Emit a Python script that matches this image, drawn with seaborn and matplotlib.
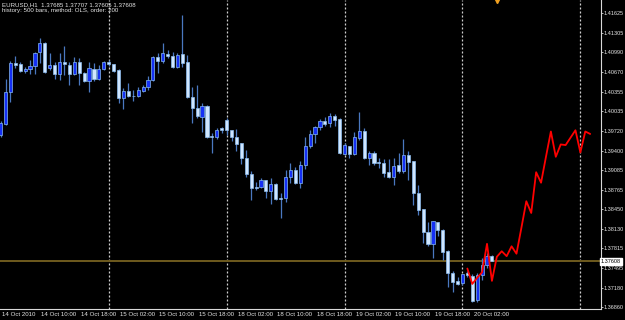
import matplotlib
matplotlib.use("Agg")
import matplotlib.pyplot as plt
import matplotlib.transforms as mtransforms
from matplotlib import font_manager
import numpy as np
import pandas as pd
import seaborn as sns

# ---------------- data (EURUSD H1 candles, bar 0 = 14 Oct 2010 02:00) ----------------
opens = [1.3965, 1.3983, 1.4035, 1.4082, 1.4080, 1.4069, 1.4072, 1.4077, 1.4100, 1.4114,
         1.4074, 1.4079, 1.4064, 1.4084, 1.4079, 1.4064, 1.4084, 1.4066, 1.4053, 1.4072,
         1.4056, 1.4072, 1.4084, 1.4080, 1.4071, 1.4025, 1.4037, 1.4029, 1.4028, 1.4037,
         1.4043, 1.4054, 1.4092, 1.4085, 1.4097, 1.4093, 1.4075, 1.4097, 1.4084, 1.4027,
         1.4009, 1.3994, 1.4012, 1.3964, 1.3962, 1.3977, 1.3990, 1.3973, 1.3962, 1.3952,
         1.3928, 1.3902, 1.3881, 1.3881, 1.3892, 1.3875, 1.3886, 1.3863, 1.3863, 1.3897,
         1.3909, 1.3888, 1.3917, 1.3947, 1.3967, 1.3978, 1.3988, 1.3985, 1.3996, 1.3991,
         1.3935, 1.3947, 1.3935, 1.3960, 1.3972, 1.3928, 1.3936, 1.3922, 1.3920, 1.3905,
         1.3897, 1.3917, 1.3907, 1.3933, 1.3923, 1.3871, 1.3845, 1.3808, 1.3789, 1.3824,
         1.3811, 1.3777, 1.3742, 1.3729, 1.3726, 1.3742, 1.3737, 1.3698, 1.3739, 1.3755,
         1.37685]
highs = [1.3988, 1.4056, 1.4085, 1.4093, 1.4084, 1.4075, 1.4087, 1.4100, 1.4122, 1.4116,
         1.4098, 1.4084, 1.4098, 1.4109, 1.4084, 1.4092, 1.4090, 1.4067, 1.4084, 1.4082,
         1.4079, 1.4085, 1.4087, 1.4080, 1.4072, 1.4041, 1.4050, 1.4038, 1.4043, 1.4046,
         1.4061, 1.4093, 1.4098, 1.4114, 1.4103, 1.4100, 1.4098, 1.4160, 1.4095, 1.4043,
         1.4046, 1.4017, 1.4014, 1.3969, 1.3977, 1.3978, 1.3993, 1.3973, 1.3975, 1.3952,
         1.3941, 1.3907, 1.3889, 1.3896, 1.3892, 1.3896, 1.3888, 1.3871, 1.3909, 1.3920,
         1.3913, 1.3923, 1.3962, 1.3973, 1.3980, 1.3991, 1.3994, 1.4001, 1.3999, 1.3993,
         1.3952, 1.3947, 1.3970, 1.4003, 1.3977, 1.3939, 1.3939, 1.3928, 1.3926, 1.3926,
         1.3928, 1.3936, 1.3959, 1.3939, 1.3923, 1.3884, 1.3845, 1.3824, 1.3826, 1.3824,
         1.3813, 1.3779, 1.3745, 1.3735, 1.3740, 1.3745, 1.3740, 1.3742, 1.3766, 1.3774,
         1.37707]
lows = [1.3962, 1.3982, 1.4019, 1.4074, 1.4067, 1.4066, 1.4064, 1.4064, 1.4082, 1.4066,
        1.4071, 1.4056, 1.4054, 1.4063, 1.4046, 1.4063, 1.4046, 1.4051, 1.4035, 1.4053,
        1.4054, 1.4071, 1.4077, 1.4067, 1.4017, 1.4007, 1.4027, 1.4020, 1.4027, 1.4035,
        1.4038, 1.4053, 1.4066, 1.4082, 1.4090, 1.4074, 1.4074, 1.4075, 1.4025, 1.3985,
        1.3993, 1.3970, 1.3960, 1.3936, 1.3959, 1.3969, 1.3965, 1.3956, 1.3939, 1.3918,
        1.3897, 1.3860, 1.3876, 1.3879, 1.3863, 1.3854, 1.3860, 1.3831, 1.3857, 1.3888,
        1.3886, 1.3879, 1.3910, 1.3944, 1.3952, 1.3973, 1.3980, 1.3978, 1.3980, 1.3935,
        1.3933, 1.3928, 1.3933, 1.3957, 1.3926, 1.3917, 1.3917, 1.3912, 1.3897, 1.3896,
        1.3884, 1.3904, 1.3904, 1.3892, 1.3852, 1.3836, 1.3790, 1.3785, 1.3766, 1.3802,
        1.3763, 1.3719, 1.3711, 1.3722, 1.3722, 1.3735, 1.3695, 1.3695, 1.3730, 1.3750,
        1.37605]
closes = [1.3985, 1.4035, 1.4082, 1.4079, 1.4069, 1.4072, 1.4077, 1.4098, 1.4114, 1.4067,
          1.4079, 1.4064, 1.4084, 1.4080, 1.4064, 1.4084, 1.4066, 1.4053, 1.4074, 1.4056,
          1.4072, 1.4084, 1.4080, 1.4069, 1.4025, 1.4037, 1.4028, 1.4028, 1.4038, 1.4043,
          1.4054, 1.4092, 1.4085, 1.4098, 1.4093, 1.4075, 1.4095, 1.4082, 1.4027, 1.4009,
          1.3996, 1.4012, 1.3962, 1.3962, 1.3973, 1.3973, 1.3973, 1.3962, 1.3951, 1.3928,
          1.3902, 1.3879, 1.3880, 1.3892, 1.3875, 1.3886, 1.3862, 1.3862, 1.3897, 1.3909,
          1.3888, 1.3917, 1.3947, 1.3967, 1.3978, 1.3988, 1.3983, 1.3996, 1.3990, 1.3936,
          1.3949, 1.3935, 1.3962, 1.3972, 1.3928, 1.3936, 1.3920, 1.3920, 1.3904, 1.3897,
          1.3915, 1.3907, 1.3933, 1.3922, 1.3871, 1.3844, 1.3808, 1.3789, 1.3826, 1.3811,
          1.3776, 1.3742, 1.3727, 1.3724, 1.3740, 1.3738, 1.3696, 1.3739, 1.3755, 1.3769,
          1.37608]

# OLS forecast (red line), hourly from bar 95
forecast_bars = list(range(95, 121))
forecast = [1.3749, 1.3724, 1.3734, 1.3743, 1.3789, 1.3729, 1.3768, 1.3777, 1.3769, 1.3785,
            1.3773, 1.3815, 1.3858, 1.3839, 1.3905, 1.3888, 1.3930, 1.3971, 1.3930, 1.3950,
            1.3949, 1.3961, 1.3973, 1.3937, 1.3971, 1.3967]

bid_price = 1.37608
day_separator_bars = [22, 46, 70, 94, 118]
shift_marker_bar = 101

time_tick_bars = [0, 8, 16, 24, 32, 40, 48, 56, 64, 72, 80, 88, 96]
time_tick_labels = ["14 Oct 2010", "14 Oct 10:00", "14 Oct 18:00", "15 Oct 02:00",
                    "15 Oct 10:00", "15 Oct 18:00", "18 Oct 02:00", "18 Oct 10:00",
                    "18 Oct 18:00", "19 Oct 02:00", "19 Oct 10:00", "19 Oct 18:00",
                    "20 Oct 02:00"]
price_ticks = [1.41625, 1.41305, 1.40990, 1.40670, 1.40355, 1.40035, 1.39720, 1.39400,
               1.39085, 1.38765, 1.38450, 1.38130, 1.37815, 1.37495, 1.37180, 1.36860]
title_line1 = "EURUSD,H1  1.37685 1.37707 1.37605 1.37608"
title_line2 = "history: 500 bars, method: OLS, order: 200"

# ---------------- style ----------------
sns.set_theme(style="dark", rc={
    "axes.facecolor": "black", "figure.facecolor": "black",
    "axes.edgecolor": "#d8d8d8", "axes.grid": False,
})
avail = {f.name for f in font_manager.fontManager.ttflist}
fam = "Liberation Sans Narrow" if "Liberation Sans Narrow" in avail else "Liberation Sans"
plt.rcParams["font.family"] = [fam, "DejaVu Sans"]
FS = 4.9 if fam == "Liberation Sans Narrow" else 4.4
FSY = 4.6 if fam == "Liberation Sans Narrow" else 3.95
TXT = "#e6e6e6"

fig = plt.figure(figsize=(6.25, 3.2), dpi=100, facecolor="black")
ax = fig.add_axes([0, 11 / 320, 601 / 625, 309 / 320])
ax.set_facecolor("black")

df = pd.DataFrame({"bar": np.arange(len(opens)), "open": opens, "high": highs,
                   "low": lows, "close": closes})
df["bull"] = df["close"] > df["open"]
df["bottom"] = df[["open", "close"]].min(axis=1)
df["height"] = (df["close"] - df["open"]).abs().clip(lower=0.00009)

# day separators
for b in day_separator_bars:
    ax.axvline(b, color="#cfcfcf", lw=0.9, ls=(0, (1.6, 1.6)), zorder=1)

# bid line
ax.axhline(bid_price, color="#6f5b1e", lw=1.4, zorder=1.5)

# wicks
ax.vlines(df["bar"], df["low"], df["high"], color="#4a78c0", lw=0.9, zorder=2)
# bodies
bull = df[df["bull"]]
bear = df[~df["bull"]]
ax.bar(bull["bar"], bull["height"], bottom=bull["bottom"], width=0.64,
       color="#1530f5", edgecolor="#86b8f0", linewidth=0.5, zorder=3)
ax.bar(bear["bar"], bear["height"], bottom=bear["bottom"], width=0.64,
       color="#cfe6ff", edgecolor="#8cbcee", linewidth=0.5, zorder=3)

# forecast line
sns.lineplot(x=forecast_bars, y=forecast, color="#ff0000", lw=1.3, ax=ax,
             zorder=4, legend=False)

# shift marker
ax.plot([shift_marker_bar], [1 - 1.0 / 309], marker="v", ms=3.0, color="#f0a020",
        mec="#f0a020", transform=mtransforms.blended_transform_factory(ax.transData, ax.transAxes),
        clip_on=False, zorder=5)

ax.set_xlim(-0.12, 122.2)
ax.set_ylim(1.368342, 1.41840)

for s in ["top", "left"]:
    ax.spines[s].set_visible(False)
for s in ["right", "bottom"]:
    ax.spines[s].set_color("#d8d8d8")
    ax.spines[s].set_linewidth(0.8)

# right price axis
ax.yaxis.tick_right()
ax.set_yticks(price_ticks)
ax.set_yticklabels([f"{p:.5f}" for p in price_ticks])
ax.tick_params(axis="y", direction="out", length=1.6, width=0.6, colors="#d8d8d8",
               labelcolor=TXT, labelsize=FSY, pad=0.3, left=False, right=True)

# time axis
ax.set_xticks(time_tick_bars)
ax.set_xticklabels(time_tick_labels)
ax.tick_params(axis="x", direction="out", length=4.5, width=0.6, colors="#d8d8d8",
               labelcolor=TXT, labelsize=FS, pad=-2.6)
off = mtransforms.ScaledTranslation(1.6 / 100, 0, fig.dpi_scale_trans)
for lab in ax.get_xticklabels():
    lab.set_horizontalalignment("left")
    lab.set_transform(lab.get_transform() + off)

# bid price label
ax.text(1.0, bid_price, "1.37608", color="black", fontsize=FSY, ha="left", va="center",
        transform=mtransforms.blended_transform_factory(ax.transAxes, ax.transData),
        bbox=dict(boxstyle="square,pad=0.15", fc="white", ec="white"), clip_on=False, zorder=6)

# title lines
fig.text(2 / 625, 1 - 2.5 / 320, title_line1, color=TXT, fontsize=FS, ha="left", va="top")
fig.text(2 / 625, 1 - 8.2 / 320, title_line2, color=TXT, fontsize=FS, ha="left", va="top")

fig.savefig("out.png", dpi=100, facecolor="black")
